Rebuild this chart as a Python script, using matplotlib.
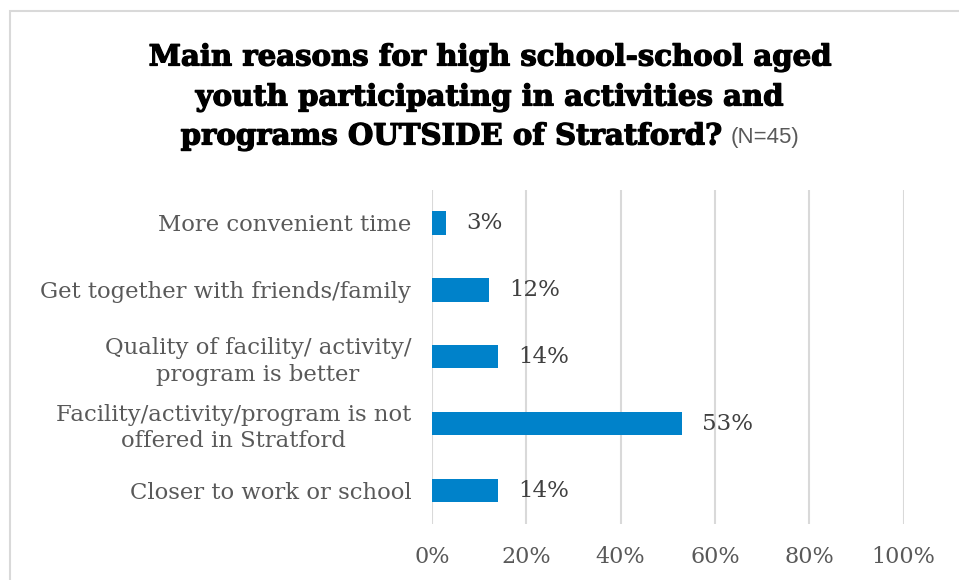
import matplotlib
matplotlib.use("Agg")
import matplotlib.pyplot as plt
from matplotlib.patches import Rectangle
import matplotlib.patheffects as pe

categories = [
    "More convenient time",
    "Get together with friends/family",
    "Quality of facility/ activity/\nprogram is better",
    "Facility/activity/program is not\noffered in Stratford",
    "Closer to work or school",
]
shares = [0.03, 0.12, 0.14, 0.53, 0.14]
xticks = [0, 0.2, 0.4, 0.6, 0.8, 1.0]
xtick_labels = ["0%", "20%", "40%", "60%", "80%", "100%"]
title_lines = ["Main reasons for high school-school aged",
               "youth participating in activities and",
               "programs OUTSIDE of Stratford?"]
sample_note = "(N=45)"

W, H = 959, 580
fig = plt.figure(figsize=(W / 100, H / 100), dpi=100)
fig.patch.set_facecolor("white")

# outer chart frame
fig.add_artist(Rectangle((10 / W, -0.05), 1.1, (H - 11) / H + 0.05,
                         transform=fig.transFigure, fill=False,
                         edgecolor="#d9d9d9", linewidth=1.5))

ax = fig.add_axes([432 / W, 1 - 524 / H, (903.5 - 432) / W, (524 - 189.5) / H])
ypos = list(range(len(categories)))
ax.barh(ypos, shares, height=0.35, color="#0082ca", zorder=3)
ax.set_ylim(len(categories) - 0.5, -0.5)
ax.set_xlim(0, 1.0)
ax.set_xticks(xticks)
ax.set_xticklabels(xtick_labels)
ax.set_yticks(ypos)
ax.set_yticklabels(categories, linespacing=1.25)
for s in ax.spines.values():
    s.set_visible(False)
ax.grid(axis="x", color="#d9d9d9", linewidth=1.5, zorder=0)
ax.tick_params(axis="y", length=0, pad=15, labelsize=16.4, labelcolor="#595959")
ax.tick_params(axis="x", length=0, pad=15.5, labelsize=16, labelcolor="#595959")
for lab in ax.get_yticklabels() + ax.get_xticklabels():
    lab.set_fontfamily("DejaVu Serif")
    lab.set_multialignment("center")

for y, v in zip(ypos, shares):
    ax.annotate(f"{v * 100:.0f}%", (v, y), xytext=(14.5, 0), textcoords="offset points",
                va="center", ha="left", fontsize=16.5, color="#404040",
                family="DejaVu Serif")

# title
cx = 490 / W
bold = dict(fontsize=21, fontweight="bold", family="DejaVu Serif", color="black",
            path_effects=[pe.withStroke(linewidth=0.9, foreground="black")])
fig.text(cx, 1 - 57 / H, title_lines[0], ha="center", va="center", **bold)
fig.text(cx, 1 - 97 / H, title_lines[1], ha="center", va="center", **bold)
t3 = fig.text(0, 1 - 136 / H, title_lines[2], ha="left", va="center", **bold)
t4 = fig.text(0, 1 - 137 / H, sample_note, ha="left", va="center",
              fontsize=16, family=["Liberation Sans Narrow", "Liberation Sans"],
              fontstretch="condensed", color="#595959")
fig.canvas.draw()
r = fig.canvas.get_renderer()
w3 = t3.get_window_extent(r).width
w4 = t4.get_window_extent(r).width
gap = 9
x0 = cx * W - (w3 + gap + w4) / 2
t3.set_x(x0 / W)
t4.set_x((x0 + w3 + gap) / W)

fig.savefig("out.png", dpi=100, facecolor="white")
